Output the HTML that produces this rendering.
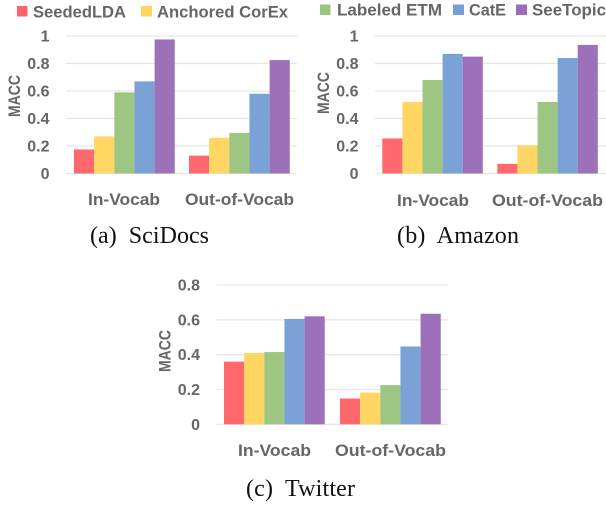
<!DOCTYPE html>
<html lang="en">
<head>
<meta charset="utf-8">
<title>MACC comparison</title>
<style>
html,body{margin:0;padding:0;background:#fff}
svg{display:block}
.t{font-family:"Liberation Sans",sans-serif;font-weight:bold;fill:#666}
.cap{font-family:"Liberation Serif",serif;fill:#111;font-size:24px}
</style>
</head>
<body>
<svg id="figure" width="606" height="530" viewBox="0 0 606 530" xmlns="http://www.w3.org/2000/svg">
<defs><filter id="soft" x="-5%" y="-5%" width="110%" height="110%"><feGaussianBlur stdDeviation="0.3"/></filter></defs>
<g id="legend" filter="url(#soft)">
  <rect x="17" y="6" width="10.5" height="10.5" fill="#ff6468"/>
  <text class="t" x="33" y="17.3" font-size="16.5" textLength="93" lengthAdjust="spacingAndGlyphs">SeededLDA</text>
  <rect x="141" y="6" width="11" height="10.5" fill="#ffd45e"/>
  <text class="t" x="157" y="17.3" font-size="16.5" textLength="131" lengthAdjust="spacingAndGlyphs">Anchored CorEx</text>
  <rect x="320" y="4.5" width="10.5" height="10.5" fill="#9bc47f"/>
  <text class="t" x="337" y="15.3" font-size="16.5" textLength="105" lengthAdjust="spacingAndGlyphs">Labeled ETM</text>
  <rect x="453" y="4.5" width="11" height="10.5" fill="#769fd6"/>
  <text class="t" x="469" y="15.3" font-size="16.5" textLength="37" lengthAdjust="spacingAndGlyphs">CatE</text>
  <rect x="516" y="4.5" width="11" height="10.5" fill="#9a6cb8"/>
  <text class="t" x="532" y="15.3" font-size="16.5" textLength="74" lengthAdjust="spacingAndGlyphs">SeeTopic</text>
</g>
<text class="cap" x="90" y="243" xml:space="preserve" textLength="119">(a)  SciDocs</text>
<text class="cap" x="397" y="243" xml:space="preserve" textLength="122">(b)  Amazon</text>
<text class="cap" x="246" y="496" xml:space="preserve" textLength="109">(c)  Twitter</text>
</svg>
<script>
var categories = ['In-Vocab', 'Out-of-Vocab'];
var seriesNames = ['seededlda', 'anchored-corex', 'labeled-etm', 'cate', 'seetopic'];
var scidocsInVocab = [0.175, 0.27, 0.59, 0.67, 0.975];
var scidocsOutVocab = [0.13, 0.26, 0.295, 0.58, 0.825];
var amazonInVocab = [0.255, 0.52, 0.68, 0.87, 0.85];
var amazonOutVocab = [0.07, 0.205, 0.52, 0.84, 0.935];
var twitterInVocab = [0.36, 0.41, 0.415, 0.605, 0.62];
var twitterOutVocab = [0.148, 0.182, 0.225, 0.447, 0.635];
var ticksFull = ['0', '0.2', '0.4', '0.6', '0.8', '1'];
var ticksTwitter = ['0', '0.2', '0.4', '0.6', '0.8'];

var colors = ['#ff6468', '#ffd45e', '#9bc47f', '#769fd6', '#9a6cb8'];
var svg = document.getElementById('figure');
var NS = 'http://www.w3.org/2000/svg';

function make(tag, attrs, parent) {
  var el = document.createElementNS(NS, tag);
  for (var k in attrs) el.setAttribute(k, attrs[k]);
  parent.appendChild(el);
  return el;
}

function drawPanel(p) {
  var g = make('g', {}, svg);
  
  
  var maxVal = parseFloat(p.ticks[p.ticks.length - 1]);
  function y(v) { return p.y0 - (v / maxVal) * (p.y0 - p.yTop); }

  p.ticks.forEach(function (t) {
    var v = parseFloat(t);
    var line = make('line', {x1: p.gridL, x2: p.gridR, y1: y(v), y2: y(v), stroke: '#e6e6e6', 'stroke-width': 1.3}, g);
    
    
    var lab = make('text', {x: p.tickX, y: y(v) + 5.5, 'text-anchor': 'end', 'font-size': 16, 'class': 't', filter: 'url(#soft)'}, g);
    
    
    lab.textContent = t;
  });

  var ylab = make('text', {x: 0, y: 0, 'text-anchor': 'middle', 'font-size': 16.5, 'class': 't', filter: 'url(#soft)',
    transform: 'translate(' + p.yTitleX + ',' + p.yTitleY + ') rotate(-90)', textLength: 42, lengthAdjust: 'spacingAndGlyphs'}, g);
  
  
  ylab.textContent = 'MACC';

  categories.forEach(function (c, ci) {
    p.values[ci].forEach(function (v, si) {
      var x = p.groupL[ci] + si * p.barW;
      var bar = make('rect', {x: x, y: y(v), width: p.barW, height: p.y0 - y(v), fill: colors[si], 'fill-opacity': 0.97}, g);
      
      
    });
    var lab = make('text', {x: p.catX[ci], y: p.catY, 'font-size': 17, 'class': 't', filter: 'url(#soft)',
      textLength: p.catW[ci], lengthAdjust: 'spacingAndGlyphs'}, g);
    
    
    lab.textContent = c;
  });
}

drawPanel({
  values: [scidocsInVocab, scidocsOutVocab], ticks: ticksFull,
  y0: 173.5, yTop: 36, gridL: 66, gridR: 297, tickX: 49.5,
  groupL: [74, 189], barW: 20.15, yTitleX: 20, yTitleY: 96,
  catX: [88, 185], catW: [72, 109], catY: 205
});
drawPanel({
  values: [amazonInVocab, amazonOutVocab], ticks: ticksFull,
  y0: 173.5, yTop: 36, gridL: 375, gridR: 606, tickX: 358.5,
  groupL: [382.3, 497.3], barW: 20.1, yTitleX: 329, yTitleY: 93,
  catX: [397, 492], catW: [72, 111], catY: 206
});
drawPanel({
  values: [twitterInVocab, twitterOutVocab], ticks: ticksTwitter,
  y0: 424.3, yTop: 285, gridL: 216.7, gridR: 448, tickX: 200,
  groupL: [224, 340], barW: 20.15, yTitleX: 170.5, yTitleY: 351,
  catX: [238, 335], catW: [73, 111], catY: 456
});
</script>
</body>
</html>
